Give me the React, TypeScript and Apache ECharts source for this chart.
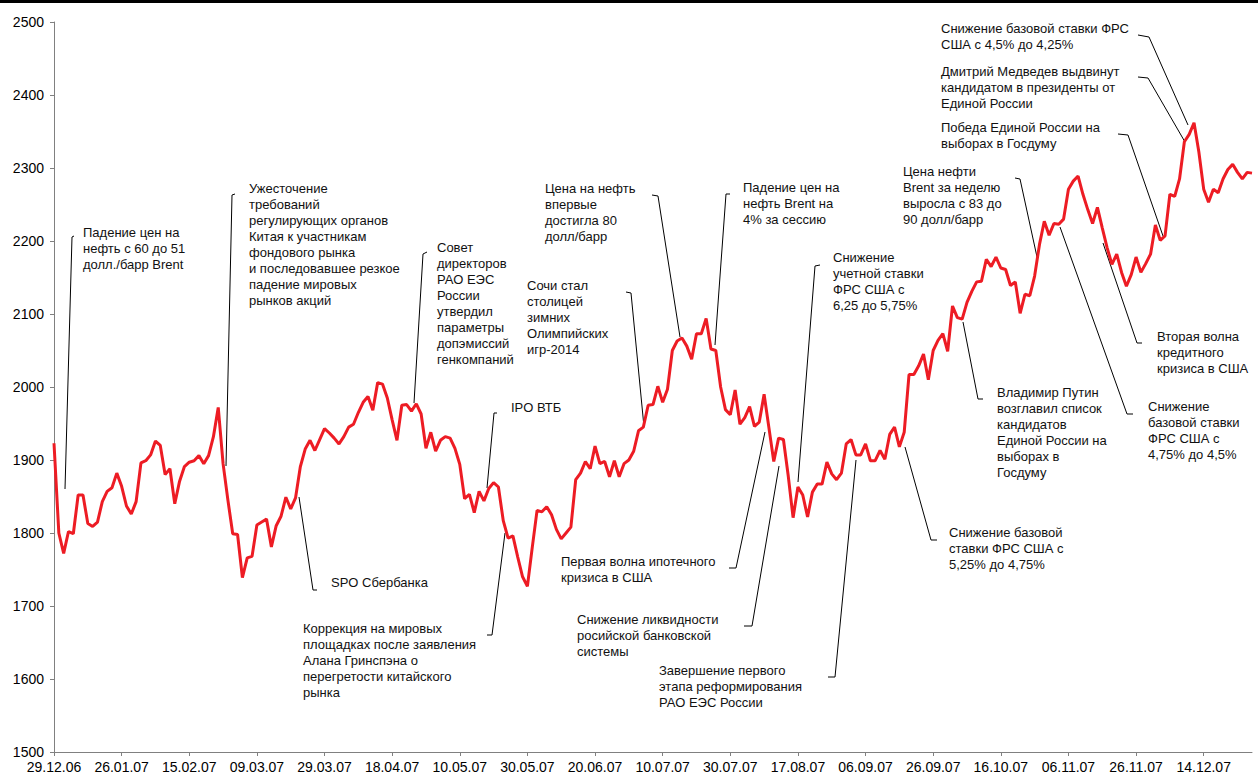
import React, { useEffect, useRef } from "react";
import * as echarts from "echarts";

// Trading calendar (Russian exchange, 29.12.2006 – 28.12.2007)
const START_DATE = "2006-12-29";
const END_DATE = "2007-12-28";
const HOLIDAYS = [
  "2007-01-01", "2007-01-02", "2007-01-03", "2007-01-04", "2007-01-05",
  "2007-01-08", "2007-02-23", "2007-03-08", "2007-04-30", "2007-05-01",
  "2007-05-09", "2007-06-11", "2007-06-12", "2007-11-05",
];
const WORKING_SATURDAYS = ["2007-04-28", "2007-06-09"];

// Index values, one per trading day
const indexValues = [
  1923, 1800, 1772, 1802, 1799, 1852, 1852, 1813, 1809, 1815,
  1843, 1857, 1862, 1882, 1864, 1837, 1826, 1843, 1896, 1899,
  1907, 1926, 1920, 1880, 1888, 1840, 1871, 1891, 1897, 1899,
  1906, 1895, 1906, 1932, 1972, 1895, 1845, 1799, 1798, 1739,
  1766, 1768, 1811, 1815, 1819, 1781, 1810, 1823, 1849, 1833,
  1848, 1891, 1915, 1927, 1913, 1928, 1943, 1937, 1930, 1922,
  1932, 1945, 1949, 1965, 1979, 1987, 1968, 2006, 2004, 1985,
  1955, 1927, 1975, 1976, 1967, 1977, 1963, 1916, 1938, 1912,
  1927, 1932, 1930, 1916, 1894, 1847, 1853, 1828, 1857, 1844,
  1861, 1869, 1863, 1817, 1793, 1796, 1767, 1740, 1727, 1780,
  1831, 1829, 1836, 1825, 1805, 1792, 1800, 1808, 1873, 1882,
  1898, 1888, 1919, 1895, 1898, 1877, 1899, 1877, 1895, 1900,
  1912, 1940, 1945, 1975, 1976, 2001, 1979, 1997, 2050, 2063,
  2067, 2056, 2038, 2073, 2073, 2094, 2052, 2050, 2000, 1969,
  1962, 1996, 1949, 1958, 1973, 1946, 1952, 1990, 1944, 1898,
  1930, 1928, 1878, 1821, 1863, 1852, 1822, 1856, 1867, 1867,
  1897, 1881, 1873, 1882, 1922, 1928, 1907, 1907, 1922, 1899,
  1899, 1913, 1901, 1935, 1945, 1918, 1938, 2017, 2017, 2029,
  2045, 2010, 2050, 2064, 2073, 2049, 2111, 2095, 2093, 2116,
  2131, 2144, 2145, 2175, 2165, 2178, 2163, 2161, 2139, 2144,
  2101, 2127, 2125, 2152, 2195, 2227, 2208, 2224, 2223, 2230,
  2271, 2282, 2289, 2264, 2243, 2224, 2246, 2218, 2191, 2168,
  2182, 2157, 2138, 2154, 2178, 2157, 2169, 2182, 2222, 2201,
  2207, 2264, 2261, 2285, 2336, 2346, 2362, 2322, 2271, 2253,
  2271, 2266, 2285, 2298, 2305, 2294, 2285, 2294, 2293,
];

const Y_MIN = 1500;
const Y_MAX = 2500;
const Y_STEP = 100;
const LABEL_EVERY = 14;

// Annotation texts
const annotationTexts = [
  "Падение цен на\nнефть с 60 до 51\nдолл./барр Brent",
  "Ужесточение\nтребований\nрегулирующих органов\nКитая к участникам\nфондового рынка\nи последовавшее резкое\nпадение мировых\nрынков акций",
  "Совет\nдиректоров\nРАО ЕЭС\nРоссии\nутвердил\nпараметры\nдопэмиссий\nгенкомпаний",
  "SPO Сбербанка",
  "Коррекция на мировых\nплощадках после заявления\nАлана Гринспэна о\nперегретости китайского\nрынка",
  "IPO ВТБ",
  "Сочи стал\nстолицей\nзимних\nОлимпийских\nигр-2014",
  "Цена на нефть\nвпервые\nдостигла 80\nдолл/барр",
  "Падение цен на\nнефть Brent на\n4% за сессию",
  "Первая волна ипотечного\nкризиса в США",
  "Снижение ликвидности\nросийской банковской\nсистемы",
  "Завершение первого\nэтапа реформирования\nРАО ЕЭС России",
  "Снижение базовой\nставки ФРС США с\n5,25% до 4,75%",
  "Снижение\nучетной ставки\nФРС США с\n6,25 до 5,75%",
  "Цена нефти\nBrent за неделю\nвыросла с 83 до\n90 долл/барр",
  "Владимир Путин\nвозглавил список\nкандидатов\nЕдиной России на\nвыборах в\nГосдуму",
  "Вторая волна\nкредитного\nкризиса в США",
  "Снижение\nбазовой ставки\nФРС США с\n4,75% до 4,5%",
  "Победа Единой России на\nвыборах в Госдуму",
  "Дмитрий Медведев выдвинут\nкандидатом в президенты от\nЕдиной России",
  "Снижение базовой ставки ФРС\nСША с 4,5% до 4,25%",
];

// Layout of annotations: text top-left and leader polyline (pixels)
const annotationLayout = [
  { x: 83, y: 224, line: [[74, 236], [72, 237], [65, 489]] },
  { x: 249, y: 180, line: [[235, 194], [232, 195], [226, 466]] },
  { x: 437, y: 239, line: [[427, 252], [423, 254], [414, 403]] },
  { x: 331, y: 574, line: [[317, 590], [313, 590], [299, 497]] },
  { x: 303, y: 620, line: [[487, 635], [492, 635], [505, 533]] },
  { x: 511, y: 399, line: [[497, 413], [494, 413], [487, 488]] },
  { x: 527, y: 277, line: [[626, 292], [631, 293], [644, 427]] },
  { x: 545, y: 180, line: [[652, 195], [658, 196], [680, 337]] },
  { x: 743, y: 179, line: [[730, 194], [726, 194], [715, 345]] },
  { x: 561, y: 553, line: [[729, 568], [736, 568], [765, 432]] },
  { x: 577, y: 611, line: [[744, 626], [752, 626], [779, 466]] },
  { x: 659, y: 662, line: [[828, 677], [835, 677], [856, 460]] },
  { x: 949, y: 524, line: [[937, 540], [931, 540], [905, 447]] },
  { x: 833, y: 249, line: [[820, 265], [815, 266], [798, 482]] },
  { x: 903, y: 163, line: [[1015, 178], [1020, 179], [1037, 257]] },
  { x: 997, y: 384, line: [[983, 399], [978, 399], [963, 322]] },
  { x: 1157, y: 328, line: [[1142, 343], [1137, 343], [1103, 243]] },
  { x: 1148, y: 398, line: [[1133, 414], [1127, 414], [1060, 227]] },
  { x: 941, y: 119, line: [[1118, 134], [1128, 135], [1163, 236]] },
  { x: 941, y: 63, line: [[1138, 77], [1148, 78], [1185, 142]] },
  { x: 941, y: 20, line: [[1138, 35], [1149, 37], [1188, 125]] },
];

function buildTradingDays(): string[] {
  const out: string[] = [];
  const [sy, sm, sd] = START_DATE.split("-").map(Number);
  const [ey, em, ed] = END_DATE.split("-").map(Number);
  let t = Date.UTC(sy, sm - 1, sd);
  const end = Date.UTC(ey, em - 1, ed);
  const pad = (n: number) => (n < 10 ? "0" + n : "" + n);
  while (t <= end) {
    const d = new Date(t);
    const iso = `${d.getUTCFullYear()}-${pad(d.getUTCMonth() + 1)}-${pad(d.getUTCDate())}`;
    const wd = d.getUTCDay();
    const weekend = wd === 0 || wd === 6;
    const working = (!weekend || WORKING_SATURDAYS.includes(iso)) && !HOLIDAYS.includes(iso);
    if (working) {
      out.push(`${pad(d.getUTCDate())}.${pad(d.getUTCMonth() + 1)}.${String(d.getUTCFullYear()).slice(2)}`);
    }
    t += 86400000;
  }
  return out;
}

const FONT = '"Liberation Sans", Arial, sans-serif';

export default function App() {
  const ref = useRef<HTMLDivElement>(null);
  useEffect(() => {
    if (!ref.current) return;
    const chart = echarts.init(ref.current, undefined, { renderer: "svg" });
    const categories = buildTradingDays();

    const graphic: any[] = [
      { type: "rect", left: 0, top: 0, shape: { x: 0, y: 0, width: 1258, height: 3 }, style: { fill: "#000" } },
    ];
    annotationTexts.forEach((txt, i) => {
      const lay = annotationLayout[i];
      graphic.push({
        type: "polyline",
        shape: { points: lay.line },
        style: { stroke: "#000", lineWidth: 1, fill: null },
        silent: true,
      });
      graphic.push({
        type: "text",
        x: lay.x,
        y: lay.y,
        style: {
          text: txt,
          fill: "#111",
          font: `13px ${FONT}`,
          lineHeight: 16,
          align: "left",
          verticalAlign: "top",
        },
        silent: true,
      });
    });

    chart.setOption({
      animation: false,
      backgroundColor: "#fff",
      grid: { left: 54, right: 6, top: 22, bottom: 26, containLabel: false },
      xAxis: {
        type: "category",
        data: categories,
        boundaryGap: false,
        axisLine: { show: true, lineStyle: { color: "#808080", width: 1 } },
        axisTick: { show: true, interval: LABEL_EVERY - 1, length: 4, lineStyle: { color: "#808080" } },
        axisLabel: {
          interval: LABEL_EVERY - 1,
          color: "#000",
          fontSize: 14,
          fontFamily: FONT,
          margin: 8,
        },
        splitLine: { show: false },
      },
      yAxis: {
        type: "value",
        min: Y_MIN,
        max: Y_MAX,
        interval: Y_STEP,
        axisLine: { show: true, lineStyle: { color: "#808080", width: 1 } },
        axisTick: { show: true, length: 4, lineStyle: { color: "#808080" } },
        axisLabel: {
          color: "#000",
          fontSize: 14,
          fontFamily: FONT,
          margin: 10,
          formatter: (v: number) => String(v),
        },
        splitLine: { show: false },
      },
      series: [
        {
          type: "line",
          data: indexValues,
          showSymbol: false,
          symbol: "none",
          lineStyle: { color: "#ED1C24", width: 3 },
          z: 3,
        },
      ],
      graphic,
    });
    return () => chart.dispose();
  }, []);
  return (
    <div
      ref={ref}
      style={{ position: "fixed", left: 0, top: 0, width: 1258, height: 778, background: "#fff" }}
    />
  );
}
